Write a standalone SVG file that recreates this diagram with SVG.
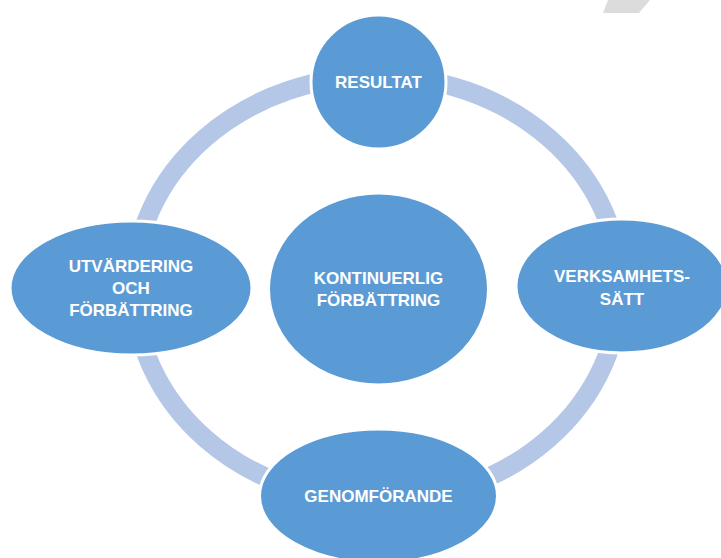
<svg xmlns="http://www.w3.org/2000/svg" width="721" height="558" viewBox="0 0 721 558">
<style>
.node{fill:#5B9BD5;stroke:#FFFFFF;stroke-width:3}
.ring{fill:none;stroke:#B4C7E7;stroke-width:19}
.lbl{font-family:"Liberation Sans",Arial,sans-serif;font-weight:bold;font-size:17px;fill:#FFFFFF;text-anchor:middle}
</style>
<rect width="721" height="558" fill="#FFFFFF"/>
<polygon points="608,0 650,0 639,13 603,13" fill="#DCDCDC"/>
<g id="connectors">
<path class="ring" d="M134,287 A243,211 0 0 1 377,76 A243,211 0 0 1 620,287"/>
<path class="ring" d="M134,287 A243,214 0 0 0 377,501 A243,214 0 0 0 620,287"/>
</g>
<g id="node-resultat">
<ellipse class="node" cx="378.5" cy="82" rx="67.5" ry="67"/>
<text class="lbl" x="378.5" y="88">RESULTAT</text>
</g>
<g id="node-verksamhetssatt">
<ellipse class="node" cx="622" cy="286" rx="106" ry="67"/>
<text class="lbl" x="622" y="282">VERKSAMHETS-</text>
<text class="lbl" x="622" y="305">SÄTT</text>
</g>
<g id="node-genomforande">
<ellipse class="node" cx="378.5" cy="496" rx="119" ry="67"/>
<text class="lbl" x="378.5" y="502">GENOMFÖRANDE</text>
</g>
<g id="node-utvardering">
<ellipse class="node" cx="131" cy="288" rx="121" ry="67"/>
<text class="lbl" x="131" y="272">UTVÄRDERING</text>
<text class="lbl" x="131" y="294">OCH</text>
<text class="lbl" x="131" y="316">FÖRBÄTTRING</text>
</g>
<g id="node-kontinuerlig">
<ellipse class="node" cx="378.5" cy="289" rx="110" ry="96"/>
<text class="lbl" x="378.5" y="284">KONTINUERLIG</text>
<text class="lbl" x="378.5" y="306">FÖRBÄTTRING</text>
</g>
</svg>
